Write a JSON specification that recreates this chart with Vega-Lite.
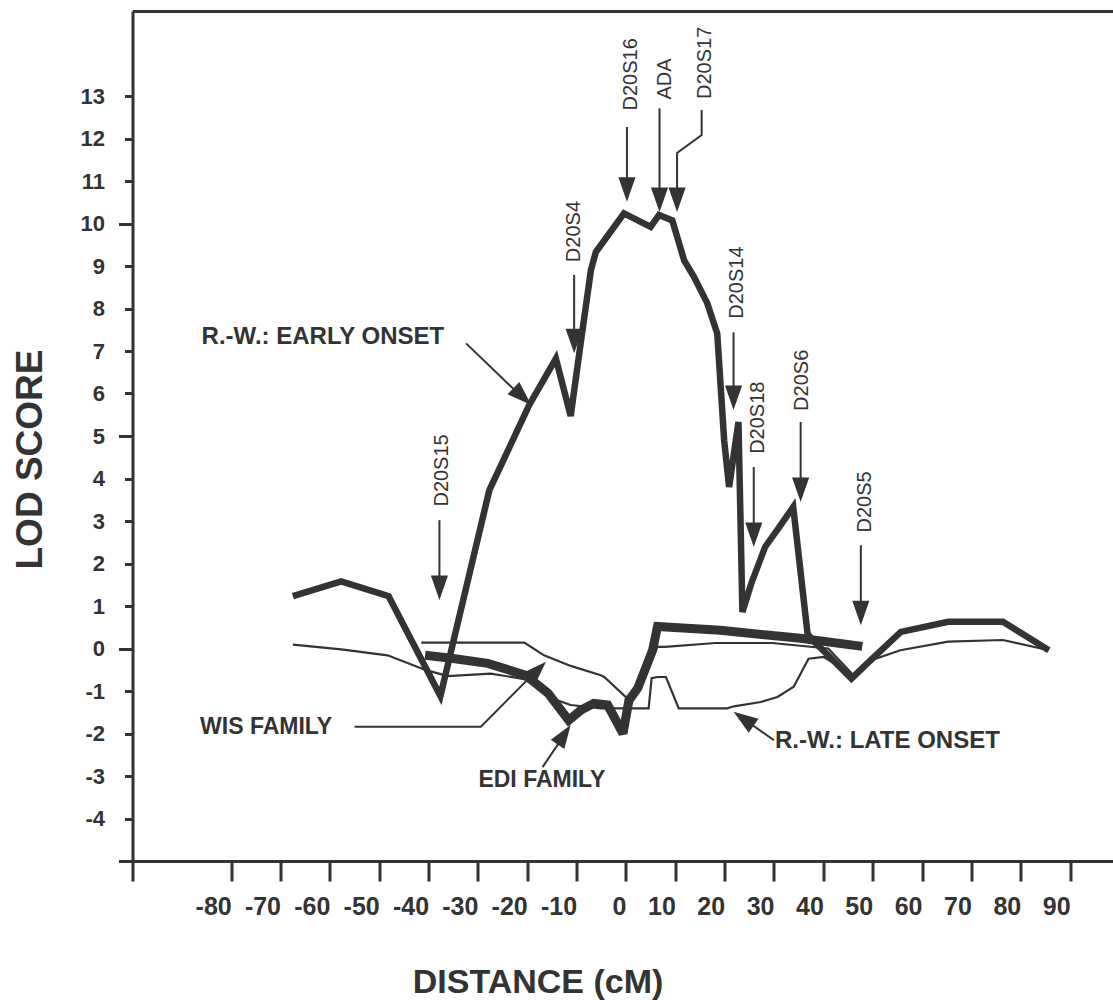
{
  "$schema": "https://vega.github.io/schema/vega-lite/v6.json",
  "width": 980,
  "height": 850,
  "autosize": {"type": "none"},
  "padding": {"left": 132.5, "top": 11, "right": 0, "bottom": 139},
  "background": "white",
  "config": {
    "view": {"stroke": null},
    "axis": {"grid": false, "domainColor": "#333", "tickColor": "#333", "labelColor": "#333", "titleColor": "#333"}
  },
  "datasets": {
    "curves": [
      {"series": "early", "x": -67.5, "y": 1.23}, {"series": "early", "x": -57.7, "y": 1.58}, {"series": "early", "x": -48.1, "y": 1.23},
      {"series": "early", "x": -37.6, "y": -1.12}, {"series": "early", "x": -27.7, "y": 3.72}, {"series": "early", "x": -19.6, "y": 5.73},
      {"series": "early", "x": -14.2, "y": 6.82}, {"series": "early", "x": -11.2, "y": 5.47}, {"series": "early", "x": -9.1, "y": 7.25},
      {"series": "early", "x": -7.1, "y": 8.9}, {"series": "early", "x": -6.1, "y": 9.33}, {"series": "early", "x": -0.4, "y": 10.24},
      {"series": "early", "x": 5.0, "y": 9.92}, {"series": "early", "x": 6.7, "y": 10.2}, {"series": "early", "x": 9.4, "y": 10.07},
      {"series": "early", "x": 11.8, "y": 9.13}, {"series": "early", "x": 13.8, "y": 8.74}, {"series": "early", "x": 16.5, "y": 8.12},
      {"series": "early", "x": 18.5, "y": 7.41}, {"series": "early", "x": 19.2, "y": 6.16}, {"series": "early", "x": 19.9, "y": 4.9},
      {"series": "early", "x": 20.9, "y": 3.8}, {"series": "early", "x": 22.8, "y": 5.33}, {"series": "early", "x": 23.6, "y": 0.86},
      {"series": "early", "x": 25.4, "y": 1.53}, {"series": "early", "x": 28.2, "y": 2.39}, {"series": "early", "x": 31.1, "y": 2.86},
      {"series": "early", "x": 33.9, "y": 3.33}, {"series": "early", "x": 36.8, "y": 0.35}, {"series": "early", "x": 37.8, "y": 0.2},
      {"series": "early", "x": 41.0, "y": -0.16}, {"series": "early", "x": 45.7, "y": -0.71}, {"series": "early", "x": 48.9, "y": -0.35},
      {"series": "early", "x": 55.7, "y": 0.39}, {"series": "early", "x": 65.3, "y": 0.63}, {"series": "early", "x": 76.4, "y": 0.63},
      {"series": "early", "x": 85.7, "y": -0.04},
      {"series": "late", "x": -67.5, "y": 0.09}, {"series": "late", "x": -57.7, "y": -0.02}, {"series": "late", "x": -48.3, "y": -0.16},
      {"series": "late", "x": -40.5, "y": -0.51}, {"series": "late", "x": -36.1, "y": -0.65}, {"series": "late", "x": -27.4, "y": -0.59},
      {"series": "late", "x": -20.6, "y": -0.72}, {"series": "late", "x": -13.9, "y": -1.22}, {"series": "late", "x": -11.2, "y": -1.33},
      {"series": "late", "x": -5.1, "y": -1.41}, {"series": "late", "x": 3.3, "y": -1.41}, {"series": "late", "x": 4.6, "y": -1.41},
      {"series": "late", "x": 5.2, "y": -0.7}, {"series": "late", "x": 6.4, "y": -0.67}, {"series": "late", "x": 8.1, "y": -0.67},
      {"series": "late", "x": 10.7, "y": -1.41}, {"series": "late", "x": 20.5, "y": -1.41}, {"series": "late", "x": 21.9, "y": -1.36},
      {"series": "late", "x": 27.3, "y": -1.26}, {"series": "late", "x": 30.7, "y": -1.14}, {"series": "late", "x": 34.0, "y": -0.9},
      {"series": "late", "x": 37.0, "y": -0.24}, {"series": "late", "x": 40.1, "y": -0.2}, {"series": "late", "x": 46.1, "y": -0.63},
      {"series": "wis", "x": -41.5, "y": 0.14}, {"series": "wis", "x": -20.6, "y": 0.14}, {"series": "wis", "x": -16.6, "y": -0.16},
      {"series": "wis", "x": -11.2, "y": -0.41}, {"series": "wis", "x": -5.1, "y": -0.63}, {"series": "wis", "x": -4.4, "y": -0.67},
      {"series": "wis", "x": -0.04, "y": -1.14}, {"series": "wis", "x": 1.3, "y": -1.1}, {"series": "wis", "x": 2.3, "y": -0.98},
      {"series": "wis", "x": 6.4, "y": 0.04}, {"series": "wis", "x": 7.9, "y": 0.04}, {"series": "wis", "x": 18.2, "y": 0.13},
      {"series": "wis", "x": 29.6, "y": 0.13}, {"series": "wis", "x": 41.0, "y": 0.0}, {"series": "wis", "x": 46.1, "y": -0.63},
      {"series": "wis", "x": 49.6, "y": -0.28}, {"series": "wis", "x": 55.6, "y": -0.04}, {"series": "wis", "x": 65.3, "y": 0.16},
      {"series": "wis", "x": 76.4, "y": 0.2}, {"series": "wis", "x": 85.7, "y": -0.04},
      {"series": "edi", "x": -40.7, "y": -0.16}, {"series": "edi", "x": -35.4, "y": -0.23}, {"series": "edi", "x": -28.0, "y": -0.35},
      {"series": "edi", "x": -20.3, "y": -0.63}, {"series": "edi", "x": -15.8, "y": -1.05}, {"series": "edi", "x": -11.6, "y": -1.69},
      {"series": "edi", "x": -9.1, "y": -1.45}, {"series": "edi", "x": -6.5, "y": -1.29}, {"series": "edi", "x": -3.7, "y": -1.33},
      {"series": "edi", "x": -0.6, "y": -2.0}, {"series": "edi", "x": 0.6, "y": -1.22}, {"series": "edi", "x": 2.4, "y": -0.93},
      {"series": "edi", "x": 5.4, "y": -0.04}, {"series": "edi", "x": 6.4, "y": 0.52}, {"series": "edi", "x": 19.1, "y": 0.43},
      {"series": "edi", "x": 35.3, "y": 0.24}, {"series": "edi", "x": 47.9, "y": 0.05}
    ],
    "pointers": [
      {"id": "D20S15", "x": -37.8, "y": 3.02}, {"id": "D20S15", "x": -37.8, "y": 1.3},
      {"id": "D20S4", "x": -10.5, "y": 8.79}, {"id": "D20S4", "x": -10.5, "y": 7.1},
      {"id": "D20S16", "x": 0.2, "y": 12.27}, {"id": "D20S16", "x": 0.2, "y": 10.65},
      {"id": "ADA", "x": 6.8, "y": 12.71}, {"id": "ADA", "x": 6.8, "y": 10.4},
      {"id": "D20S17", "x": 15.34, "y": 12.67}, {"id": "D20S17", "x": 15.34, "y": 12.08}, {"id": "D20S17", "x": 10.36, "y": 11.66}, {"id": "D20S17", "x": 10.36, "y": 10.4},
      {"id": "D20S14", "x": 21.8, "y": 7.44}, {"id": "D20S14", "x": 21.8, "y": 5.75},
      {"id": "D20S18", "x": 25.9, "y": 4.27}, {"id": "D20S18", "x": 25.9, "y": 2.55},
      {"id": "D20S6", "x": 35.4, "y": 5.33}, {"id": "D20S6", "x": 35.4, "y": 3.6},
      {"id": "D20S5", "x": 47.6, "y": 2.43}, {"id": "D20S5", "x": 47.6, "y": 0.7},
      {"id": "early", "x": -32.4, "y": 7.18}, {"id": "early", "x": -20.5, "y": 5.85},
      {"id": "wis", "x": -55.0, "y": -1.84}, {"id": "wis", "x": -29.4, "y": -1.84}, {"id": "wis", "x": -17.5, "y": -0.45},
      {"id": "edi", "x": -16.9, "y": -2.79}, {"id": "edi", "x": -12.0, "y": -1.95},
      {"id": "late", "x": 30.0, "y": -2.16}, {"id": "late", "x": 22.8, "y": -1.57}
    ],
    "heads": [
      {"id": "D20S15", "x": -37.8, "y": 1.14}, {"id": "D20S4", "x": -10.5, "y": 6.95},
      {"id": "D20S16", "x": 0.2, "y": 10.51}, {"id": "ADA", "x": 6.8, "y": 10.27},
      {"id": "D20S17", "x": 10.36, "y": 10.27}, {"id": "D20S14", "x": 21.8, "y": 5.61},
      {"id": "D20S18", "x": 25.9, "y": 2.39}, {"id": "D20S6", "x": 35.4, "y": 3.45},
      {"id": "D20S5", "x": 47.6, "y": 0.55},
      {"id": "early", "x": -19.2, "y": 5.73}, {"id": "wis", "x": -16.2, "y": -0.31},
      {"id": "edi", "x": -11.2, "y": -1.8}, {"id": "late", "x": 21.8, "y": -1.49}
    ],
    "markers": [
      {"label": "D20S15", "x": -37.3, "y": 4.19}, {"label": "D20S4", "x": -10.5, "y": 9.81},
      {"label": "D20S16", "x": 1.07, "y": 13.51}, {"label": "ADA", "x": 7.85, "y": 13.4},
      {"label": "D20S17", "x": 16.07, "y": 13.78}, {"label": "D20S14", "x": 22.5, "y": 8.61},
      {"label": "D20S18", "x": 26.8, "y": 5.43}, {"label": "D20S6", "x": 35.7, "y": 6.31},
      {"label": "D20S5", "x": 48.5, "y": 3.45}
    ],
    "notes": [
      {"label": "R.-W.: EARLY ONSET", "x": -86.0, "y": 7.16},
      {"label": "WIS FAMILY", "x": -86.3, "y": -2.0},
      {"label": "EDI FAMILY", "x": -29.9, "y": -3.26},
      {"label": "R.-W.: LATE ONSET", "x": 30.2, "y": -2.35}
    ]
  },
  "resolve": {"axis": {"x": "independent", "y": "independent"}},
  "layer": [
    {
      "data": {"name": "curves"},
      "transform": [{"filter": "datum.series == 'early'"}],
      "mark": {"type": "line", "color": "#333", "strokeWidth": 6.5, "strokeJoin": "miter", "strokeMiterLimit": 3},
      "encoding": {
        "x": {
          "field": "x", "type": "quantitative",
          "scale": {"domain": [-100, 98.6], "nice": false, "zero": false},
          "axis": {
            "orient": "bottom",
            "values": [-100, -80, -70, -60, -50, -40, -30, -20, -10, 0, 10, 20, 30, 40, 50, 60, 70, 80, 90],
            "labelExpr": "datum.value == -100 ? '' : '' + datum.value",
            "labelAlign": "right", "labelDx": 3, "labelBaseline": "top", "labelPadding": 13,
            "labelFont": "Liberation Sans", "labelFontSize": 25, "labelFontWeight": "bold", "labelOverlap": false, "labelFlush": false,
            "tickSize": 20, "tickWidth": 3, "domainWidth": 3,
            "title": "DISTANCE (cM)", "titleFont": "Liberation Sans", "titleFontSize": 34, "titleFontWeight": "bold",
            "titleX": 405, "titleY": 131, "titleAlign": "center", "titleBaseline": "alphabetic"
          }
        },
        "y": {
          "field": "y", "type": "quantitative",
          "scale": {"domain": [-5, 15], "nice": false, "zero": false},
          "axis": {
            "orient": "left",
            "values": [-5, -4, -3, -2, -1, 0, 1, 2, 3, 4, 5, 6, 7, 8, 9, 10, 11, 12, 13],
            "labelExpr": "datum.value == -5 ? '' : '' + datum.value",
            "labelPadding": 20,
            "labelFont": "Liberation Sans", "labelFontSize": 22, "labelFontWeight": "bold", "labelOverlap": false, "labelFlush": false,
            "tickSize": 8, "tickWidth": 3, "domainWidth": 3,
            "title": "LOD SCORE", "titleFont": "Liberation Sans", "titleFontSize": 37, "titleFontWeight": "bold",
            "titleAngle": 270, "titleX": -91, "titleY": 448, "titleAlign": "center", "titleBaseline": "alphabetic"
          }
        },
        "order": {"value": null}
      }
    },
    {
      "data": {"name": "curves"},
      "transform": [{"filter": "datum.series == 'edi'"}],
      "mark": {"type": "line", "color": "#333", "strokeWidth": 9, "strokeJoin": "miter", "strokeMiterLimit": 3},
      "encoding": {
        "x": {"field": "x", "type": "quantitative", "axis": null},
        "y": {"field": "y", "type": "quantitative", "axis": null},
        "order": {"value": null}
      }
    },
    {
      "data": {"name": "curves"},
      "transform": [{"filter": "datum.series == 'late' || datum.series == 'wis'"}],
      "mark": {"type": "line", "color": "#333", "strokeWidth": 2.2, "strokeJoin": "miter"},
      "encoding": {
        "x": {"field": "x", "type": "quantitative", "axis": null},
        "y": {"field": "y", "type": "quantitative", "axis": null},
        "detail": {"field": "series", "type": "nominal"},
        "order": {"value": null}
      }
    },
    {
      "data": {"name": "pointers"},
      "mark": {"type": "line", "color": "#333", "strokeWidth": 2},
      "encoding": {
        "x": {
          "field": "x", "type": "quantitative",
          "axis": {"orient": "top", "labels": false, "ticks": false, "title": null, "domainWidth": 3}
        },
        "y": {
          "field": "y", "type": "quantitative",
          "axis": {"orient": "left", "values": [-5, 0, 5, 10], "labels": false, "domain": false, "tickSize": 14, "tickWidth": 3, "title": null}
        },
        "detail": {"field": "id", "type": "nominal"},
        "order": {"value": null}
      }
    },
    {
      "data": {"name": "heads"},
      "transform": [{"filter": {"field": "id", "oneOf": ["D20S15", "D20S4", "D20S16", "ADA", "D20S17", "D20S14", "D20S18", "D20S6", "D20S5"]}}],
      "mark": {"type": "point", "shape": "M-0.7,-2L0.7,-2L0,0Z", "size": 600, "filled": true, "color": "#333", "opacity": 1, "strokeWidth": 0},
      "encoding": {
        "x": {"field": "x", "type": "quantitative", "axis": null},
        "y": {"field": "y", "type": "quantitative", "axis": null}
      }
    },
    {
      "data": {"name": "heads"},
      "transform": [{"filter": "datum.id == 'early'"}],
      "mark": {"type": "point", "shape": "M-0.7,-2L0.7,-2L0,0Z", "size": 600, "angle": 313.5, "filled": true, "color": "#333", "opacity": 1, "strokeWidth": 0},
      "encoding": {
        "x": {"field": "x", "type": "quantitative", "axis": null},
        "y": {"field": "y", "type": "quantitative", "axis": null}
      }
    },
    {
      "data": {"name": "heads"},
      "transform": [{"filter": "datum.id == 'wis'"}],
      "mark": {"type": "point", "shape": "M-0.7,-2L0.7,-2L0,0Z", "size": 550, "angle": 225, "filled": true, "color": "#333", "opacity": 1, "strokeWidth": 0},
      "encoding": {
        "x": {"field": "x", "type": "quantitative", "axis": null},
        "y": {"field": "y", "type": "quantitative", "axis": null}
      }
    },
    {
      "data": {"name": "heads"},
      "transform": [{"filter": "datum.id == 'edi'"}],
      "mark": {"type": "point", "shape": "M-0.7,-2L0.7,-2L0,0Z", "size": 550, "angle": 214.2, "filled": true, "color": "#333", "opacity": 1, "strokeWidth": 0},
      "encoding": {
        "x": {"field": "x", "type": "quantitative", "axis": null},
        "y": {"field": "y", "type": "quantitative", "axis": null}
      }
    },
    {
      "data": {"name": "heads"},
      "transform": [{"filter": "datum.id == 'late'"}],
      "mark": {"type": "point", "shape": "M-0.7,-2L0.7,-2L0,0Z", "size": 600, "angle": 124.9, "filled": true, "color": "#333", "opacity": 1, "strokeWidth": 0},
      "encoding": {
        "x": {"field": "x", "type": "quantitative", "axis": null},
        "y": {"field": "y", "type": "quantitative", "axis": null}
      }
    },
    {
      "data": {"name": "markers"},
      "mark": {"type": "text", "angle": 270, "font": "Liberation Sans", "fontSize": 20, "color": "#333", "align": "center", "baseline": "middle"},
      "encoding": {
        "x": {"field": "x", "type": "quantitative", "axis": null},
        "y": {"field": "y", "type": "quantitative", "axis": null},
        "text": {"field": "label", "type": "nominal"}
      }
    },
    {
      "data": {"name": "notes"},
      "transform": [{"filter": {"field": "label", "oneOf": ["R.-W.: EARLY ONSET", "R.-W.: LATE ONSET"]}}],
      "mark": {"type": "text", "font": "Liberation Sans", "fontSize": 24, "fontWeight": "bold", "color": "#333", "align": "left", "baseline": "alphabetic"},
      "encoding": {
        "x": {"field": "x", "type": "quantitative", "axis": null},
        "y": {"field": "y", "type": "quantitative", "axis": null},
        "text": {"field": "label", "type": "nominal"}
      }
    },
    {
      "data": {"name": "notes"},
      "transform": [{"filter": {"field": "label", "oneOf": ["WIS FAMILY", "EDI FAMILY"]}}],
      "mark": {"type": "text", "font": "Liberation Sans", "fontSize": 23, "fontWeight": "bold", "color": "#333", "align": "left", "baseline": "alphabetic"},
      "encoding": {
        "x": {"field": "x", "type": "quantitative", "axis": null},
        "y": {"field": "y", "type": "quantitative", "axis": null},
        "text": {"field": "label", "type": "nominal"}
      }
    }
  ]
}
